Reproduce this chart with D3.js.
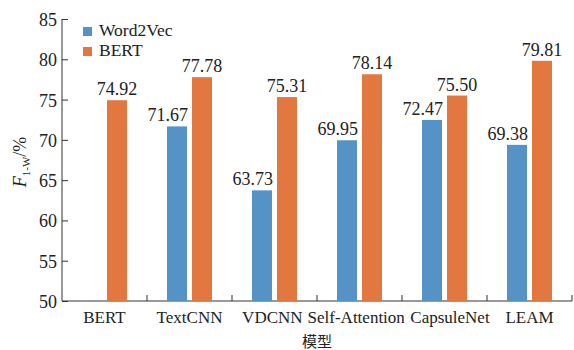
<!DOCTYPE html>
<html><head><meta charset="utf-8">
<script src="https://cdn.jsdelivr.net/npm/d3@7"></script>
<style>body{margin:0;background:#fff}svg{display:block}</style>
</head><body><svg id="c" width="574" height="350"></svg>
<script>
const categories = ["BERT","TextCNN","VDCNN","Self-Attention","CapsuleNet","LEAM"];
const seriesNames = ["Word2Vec","BERT"];
const word2vec = [null,71.67,63.73,69.95,72.47,69.38];
const bert = [74.92,77.78,75.31,78.14,75.50,79.81];
const yTicks = [50,55,60,65,70,75,80,85];
const colors = ["#5592c6","#e2773f"];
const SERIF = "'Liberation Serif','Times New Roman','DejaVu Serif',serif";

const svg = d3.select("#c");
const m = {l:62, r:572, t:19, b:301};
const x = d3.scaleBand().domain(categories).range([m.l, m.r]).padding(0);
const y = d3.scaleLinear().domain([50,85]).range([m.b, m.t]);
const barW = 20, gap = 5;

// y axis
const ya = svg.append("g").attr("transform",`translate(${m.l},0)`)
  .call(d3.axisLeft(y).tickValues(yTicks).tickSize(-6).tickPadding(4));
ya.select(".domain").attr("d",`M0,${m.t}V${m.b}`).attr("stroke","#333");
ya.selectAll(".tick line").attr("x2",6).attr("stroke","#333");
ya.selectAll(".tick text").attr("x",-5).attr("dy","0.36em").style("font-family",SERIF).style("font-size","18px").attr("fill","#222");

// x axis
const xa = svg.append("g").attr("transform",`translate(0,${m.b})`)
  .call(d3.axisBottom(x).tickSize(0).tickPadding(10));
xa.select(".domain").attr("d",`M${m.l},0H${m.r}`).attr("stroke","#333");
const xt = xa.selectAll(".tick text").attr("dy",null).attr("y",22).style("font-family",SERIF).style("font-size","17px").attr("fill","#222");
const boundaries = categories.map(c=>x(c)+x.bandwidth());
xa.selectAll(".bnd").data(boundaries).enter().append("line")
  .attr("x1",d=>d).attr("x2",d=>d).attr("y1",0).attr("y2",-6).attr("stroke","#333");
// separate overlapping category labels (bbox is local to each tick)
const nodes = xt.nodes();
const centers = categories.map(c=>x(c)+x.bandwidth()/2);
const boxes = nodes.map(n=>n.getBBox());
const shift = nodes.map(()=>0);
for (let pass=0; pass<6; pass++){
  for (let i=0;i<nodes.length-1;i++){
    const a = boxes[i], b = boxes[i+1];
    const ar = centers[i] + a.x + a.width + shift[i];
    const bl = centers[i+1] + b.x + shift[i+1];
    const need = ar + 5 - bl;
    if (need > 0.01){ shift[i] -= need/2; shift[i+1] += need/2; }
  }
}
nodes.forEach((n,i)=>d3.select(n).attr("x",shift[i]));

// bars
const series = [word2vec, bert];
series.forEach((vals,si)=>{
  const off = si===0 ? -gap/2 - barW : gap/2;
  const g = svg.append("g");
  categories.forEach((c,i)=>{
    const v = vals[i];
    if (v==null) return;
    const bx = x(c) + x.bandwidth()/2 + off;
    g.append("rect").attr("x",bx).attr("y",y(v)).attr("width",barW)
      .attr("height",y(50)-y(v)).attr("fill",colors[si]);
    g.append("text")
      .attr("x", si===0 ? bx+barW+1 : bx+barW/2)
      .attr("y",y(v)-5)
      .attr("text-anchor", si===0 ? "end" : "middle")
      .style("font-family",SERIF).style("font-size","18px").attr("fill","#222")
      .text(v.toFixed(2));
  });
});

// legend
seriesNames.forEach((n,i)=>{
  const ly = 27 + i*20;
  svg.append("rect").attr("x",83).attr("y",ly).attr("width",9).attr("height",9).attr("fill",colors[i]);
  svg.append("text").attr("x",99).attr("y",ly+9).style("font-family",SERIF).style("font-size","17.5px").attr("fill","#222").text(n);
});

// axis titles
svg.append("text").attr("x",(m.l+m.r)/2).attr("y",347).attr("text-anchor","middle")
  .style("font-family","'Noto Sans CJK SC',sans-serif").style("font-size","15px").attr("fill","#222").text("模型");
const yt = svg.append("text").attr("transform","translate(26,162) rotate(-90)").attr("text-anchor","middle")
  .style("font-family",SERIF).style("font-size","18px").attr("fill","#222");
yt.append("tspan").style("font-style","italic").text("F");
yt.append("tspan").attr("dy",4).style("font-size","11px").text("1-W");
yt.append("tspan").attr("dy",-4).text("/%");
</script></body></html>
